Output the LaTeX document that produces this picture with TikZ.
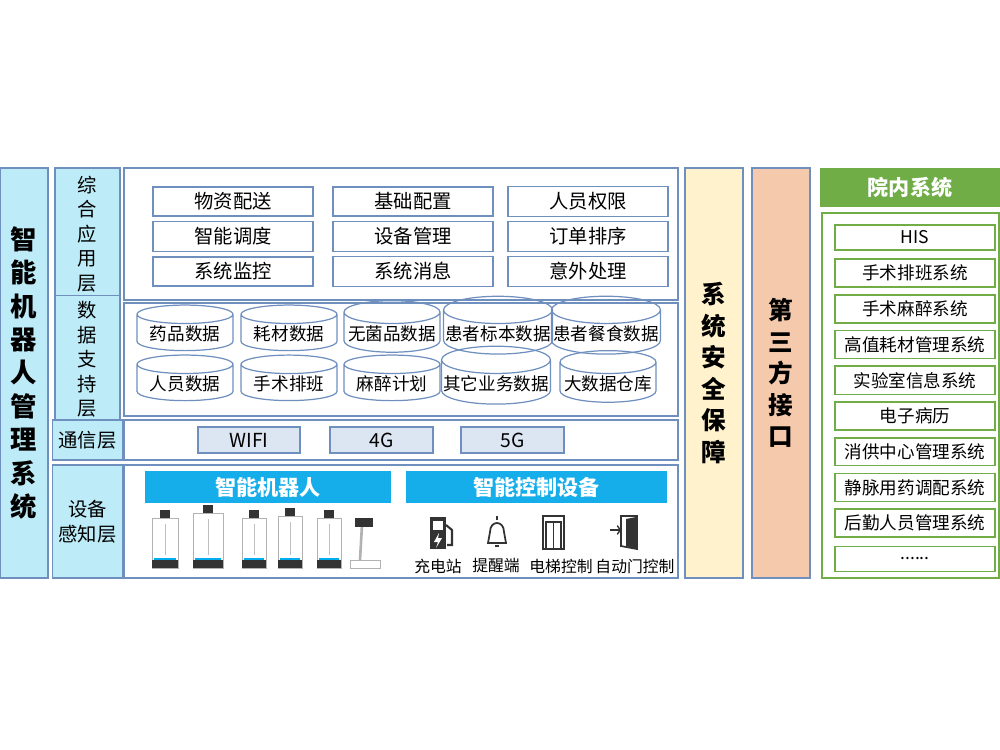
\documentclass[tikz,border=0pt]{standalone}
\usepackage{fontspec}
\setmainfont{Noto Sans CJK SC}
\usetikzlibrary{shapes.geometric}
\definecolor{bord}{HTML}{6F8FBF}
\definecolor{cyanl}{HTML}{BDEBF8}
\definecolor{blueb}{HTML}{16AEEA}
\definecolor{commf}{HTML}{DCE6F2}
\definecolor{yel}{HTML}{FFF2CC}
\definecolor{ora}{HTML}{F5C9AC}
\definecolor{grn}{HTML}{70AD47}
\definecolor{dk}{HTML}{333333}
\tikzset{
 panel/.style={draw=bord,line width=0.9pt},
 lbl/.style={panel,fill=cyanl,align=center,font=\fontsize{11}{14}\selectfont},
 appbox/.style={draw=bord,line width=0.9pt,fill=white,minimum width=3.2cm,minimum height=0.54cm,font=\fontsize{11}{13}\selectfont},
 db/.style={cylinder,shape border rotate=90,aspect=0.25,draw=bord,line width=0.7pt,minimum width=1.92cm,minimum height=0.76cm,font=\fontsize{10}{12}\selectfont,inner sep=1pt},
 comm/.style={draw=bord,line width=0.9pt,fill=commf,minimum width=2.05cm,minimum height=0.52cm,font=\fontsize{11}{13}\selectfont},
 bar/.style={fill=blueb,text=white,font=\bfseries\fontsize{12}{14}\selectfont},
 gitem/.style={draw=grn,line width=0.9pt,minimum width=3.2cm,minimum height=0.5cm,font=\fontsize{10}{12}\selectfont},
 small/.style={font=\fontsize{9}{11}\selectfont},
 robot/.style={draw=gray!60,fill=white,line width=0.5pt}
}
\begin{document}
\begin{tikzpicture}[x=0.02cm,y=-0.02cm]
\useasboundingbox (0,0) rectangle (1000,750);
% left title
\node[lbl,minimum width=0.96cm,minimum height=8.2cm,font=\bfseries\fontsize{15}{19}\selectfont] (title) at (24,373) {智\\能\\机\\器\\人\\管\\理\\系\\统};
% layer labels
\node[lbl,minimum width=1.3cm,minimum height=2.64cm] (l1) at (87.5,234) {综\\合\\应\\用\\层};
\node[lbl,minimum width=1.3cm,minimum height=2.26cm] (l2) at (87.5,359.5) {数\\据\\支\\持\\层};
\node[lbl,minimum width=1.3cm,minimum height=0.8cm] (l3) at (87.5,440) {通信层};
\node[lbl,minimum width=1.3cm,minimum height=2.26cm] (l4) at (87.5,521.5) {设备\\感知层};
% panels
\draw[panel] (124,168) rectangle (678,300);
\draw[panel] (124,303) rectangle (678,416);
\draw[panel] (124,420) rectangle (678,460);
\draw[panel] (124,465) rectangle (678,578);
% apps
\foreach \t/\x/\y/\n in {物资配送/233/201.5/a1,智能调度/233/236.5/a2,系统监控/233/271.5/a3,基础配置/413/201.5/a4,设备管理/413/236.5/a5,系统消息/413/271.5/a6,人员权限/588/201.5/a7,订单排序/588/236.5/a8,意外处理/588/271.5/a9}
  \node[appbox] (\n) at (\x,\y) {\t};
% databases
\foreach \t/\x/\y/\n in {药品数据/185/334/d1,耗材数据/289/334/d2,无菌品数据/392/334/d3,患者标本数据/498/334/d4,患者餐食数据/606/334/d5,人员数据/185/384/d6,手术排班/289/384/d7,麻醉计划/392/384/d8,其它业务数据/496/384/d9,大数据仓库/608/384/d10}
  \node[db] (\n) at (\x,\y) {\t};
% comm
\node[comm] (wifi) at (249,440) {WIFI};
\node[comm] (g4) at (381.5,440) {4G};
\node[comm] (g5) at (512.5,440) {5G};
% device bars
\node[bar,minimum width=4.92cm,minimum height=0.6cm] (rb) at (268,487) {智能机器人};
\node[bar,minimum width=5.22cm,minimum height=0.6cm] (cd) at (536.5,487) {智能控制设备};
% robots
\foreach \x/\w/\h in {165/26/50,208/30/55,254/24/50,290/24/52,329/24/50}{
  \draw[robot] (\x-\w/2,568-\h) rectangle (\x+\w/2,568);
  \fill[dk] (\x-\w/2,560) rectangle (\x+\w/2,568);
  \fill[cyan] (\x-\w/2+2,558) rectangle (\x+\w/2-2,560);
  \fill[dk] (\x-5,568-\h-8) rectangle (\x+5,568-\h);
  \draw[gray!50] (\x,568-\h+6) -- (\x,555);
}
\draw[robot] (350,560) rectangle (380,568);
\draw[gray!60,line width=1.5pt] (360,560) -- (362,525);
\fill[dk] (355,518) rectangle (373,527);
% icons
\fill[dk] (430,517) rectangle (446,549); \fill[white] (433,521) rectangle (443,530);
\fill[white] (439,533) -- (434,542) -- (438,542) -- (436,548) -- (442,538) -- (438,538) -- cycle;
\draw[dk,line width=1.2pt] (446,525) -- (452,530) -- (452,545) -- (447,545);
\draw[dk,line width=1pt] (490,532) .. controls (490,520) and (504,520) .. (504,532) -- (506,543) -- (488,543) -- cycle;
\draw[dk,line width=1pt] (497,520) -- (497,516);
\draw[dk,line width=1pt] (495,546) -- (499,546);
\draw[dk,line width=1pt] (543,516) rectangle (564,549);
\draw[dk,line width=0.8pt] (546,522) rectangle (561,549) (553.5,522) -- (553.5,549);
\draw[dk,line width=1pt] (621,516) -- (637,516) -- (637,549) -- (621,546) -- cycle;
\fill[white] (623,518) -- (635,518) -- (635,547) -- (623,545) -- cycle;
\fill[dk] (626,519) -- (636,517) -- (636,549) -- (626,546) -- cycle;
\draw[dk,line width=1pt,->] (610,530) -- (622,530);
\node[small] (c1) at (438,566) {充电站};
\node[small] (c2) at (496,566) {提醒端};
\node[small] (c3) at (561,566) {电梯控制};
\node[small] (c4) at (635,566) {自动门控制};
% right columns
\node[panel,fill=yel,minimum width=1.16cm,minimum height=8.2cm,align=center,font=\bfseries\fontsize{14}{18}\selectfont] (sec) at (714,373) {系\\统\\安\\全\\保\\障};
\node[panel,fill=ora,minimum width=1.16cm,minimum height=8.2cm,align=center,font=\bfseries\fontsize{14}{18}\selectfont] (tp) at (781,373) {第\\三\\方\\接\\口};
\node[fill=grn,draw=grn,text=white,minimum width=3.6cm,minimum height=0.76cm,font=\bfseries\fontsize{12}{14}\selectfont] (yn) at (910,187) {院内系统};
\draw[grn,line width=1pt] (822,213) rectangle (999,578);
\foreach \t [count=\i] in {HIS,手术排班系统,手术麻醉系统,高值耗材管理系统,实验室信息系统,电子病历,消供中心管理系统,静脉用药调配系统,后勤人员管理系统}
  \node[gitem] (g\i) at (915,{237.5+35.7*(\i-1)}) {\t};
\node[gitem] (g10) at (915,558.8) {......};
\end{tikzpicture}
\end{document}
